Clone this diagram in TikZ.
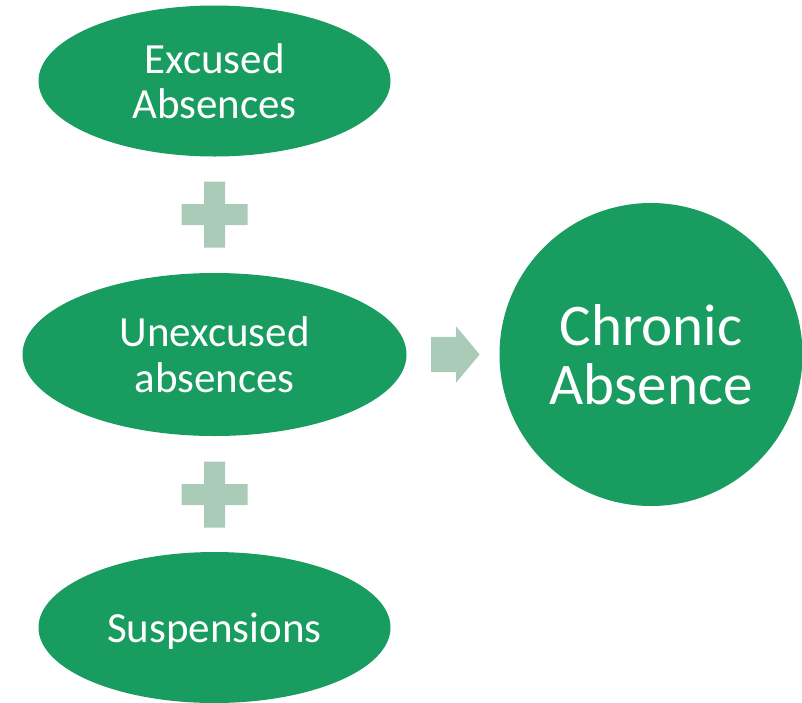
\documentclass[tikz,border=0pt]{standalone}
\usepackage{fontspec}
\setmainfont{Carlito}
\usetikzlibrary{shapes.geometric, shapes.arrows}
\definecolor{absgreen}{RGB}{24,156,96}
\definecolor{plusgreen}{RGB}{170,203,184}
\tikzstyle{oval} = [ellipse, minimum width=352pt, minimum height=151pt, inner sep=0pt, fill=absgreen, text=white, align=center, font=\fontsize{43}{45.5}\selectfont]
\tikzstyle{bigoval} = [oval, minimum width=384pt, minimum height=163pt]
\tikzstyle{result} = [circle, minimum size=303pt, inner sep=0pt, fill=absgreen, text=white, align=center, font=\fontsize{59}{59.5}\selectfont]
\tikzstyle{plusbar} = [fill=plusgreen]
\tikzstyle{flow} = [single arrow, single arrow head extend=10.5pt, single arrow tip angle=100, inner xsep=0pt, inner ysep=17.5pt, minimum height=48.5pt, fill=plusgreen]

\begin{document}
\begin{tikzpicture}[x=1pt, y=-1pt, node distance=273.5pt]
\useasboundingbox (0,0) rectangle (802,702);

\node (excused) [oval] at (214.5,81) {Excused\\Absences};
\node (unexcused) [bigoval, below of=excused] {Unexcused\\absences};
\node (susp) [oval, below of=unexcused, yshift=0.5pt, text depth=0pt] {Suspensions};
\node (chronic) [result, right of=unexcused, node distance=436.5pt] {Chronic\\Absence};
\node (toabs) [flow, right of=unexcused, node distance=233.5pt] {};

\coordinate (plusA) at (214.5,214.7);
\coordinate (plusB) at (214.5,494.5);
\foreach \p in {plusA, plusB}
  \fill [plusbar, shift={(\p)}] (-33,-10.5) rectangle (33,10.5) (-10.5,-33) rectangle (10.5,33);

\end{tikzpicture}
\end{document}
